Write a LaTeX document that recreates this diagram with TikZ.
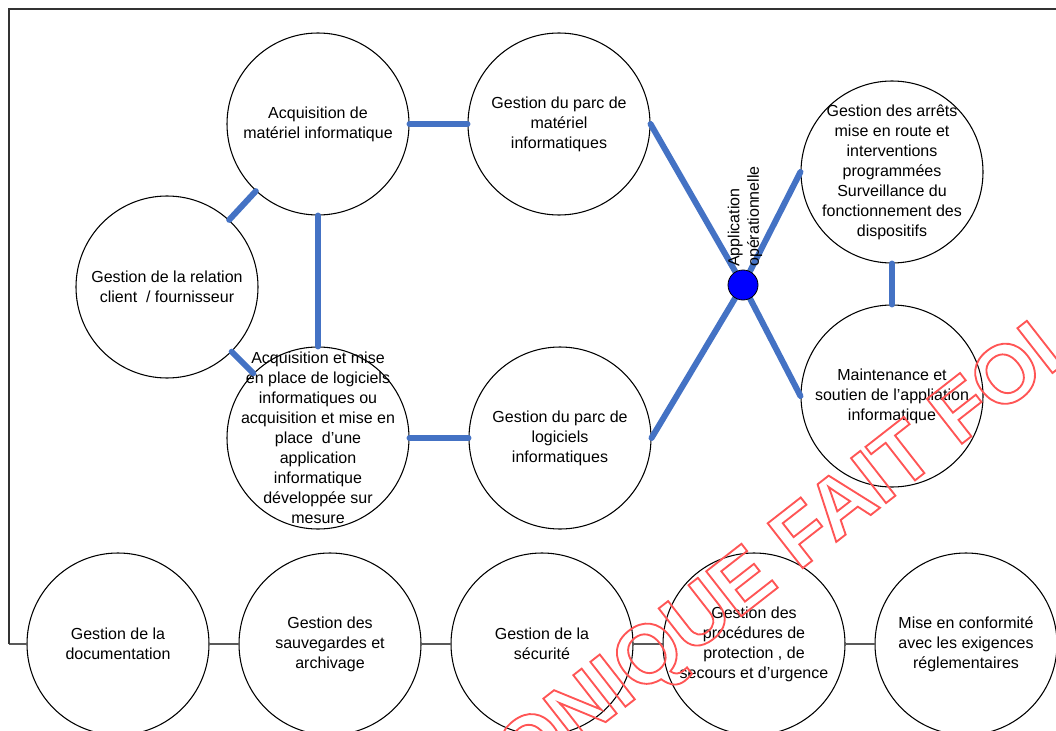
\documentclass[tikz,border=0pt]{standalone}
\usepackage{fontspec}
\setmainfont{Liberation Sans}
\usepackage{xcolor}
\usetikzlibrary{positioning,calc}
\definecolor{linkblue}{RGB}{68,114,196}
\definecolor{stampred}{RGB}{255,85,85}
\tikzstyle{proc} = [circle, draw, line width=0.8pt, minimum size=136.5pt, inner sep=-40pt, align=center, font=\fontsize{12}{15}\selectfont]
\tikzstyle{link} = [linkblue, line width=4.5pt, line cap=round]
\tikzstyle{chain} = [black!65, line width=1.1pt]
\tikzstyle{frame} = [black!80, line width=1pt]
\newcommand{\hollow}[1]{\special{pdf:literal direct 1 Tr 1.4 w}#1\special{pdf:literal direct 0 Tr}}

\begin{document}
\begin{tikzpicture}[x=0.75pt, y=-0.75pt]
    \useasboundingbox (0,0) rectangle (1056,731);
    \clip (0,0) rectangle (1056,731);
    % upper part
    \node[proc] (acqmat) at (318,124) {Acquisition de\\matériel informatique};
    \node[proc] (parcmat) at (559,124) {Gestion du parc de\\matériel\\informatiques};
    \node[proc] (relation) at (167,287) {Gestion de la relation\\client\ \ / fournisseur};
    \node[proc] (acqlog) at (318,438) {Acquisition et mise\\en place de logiciels\\informatiques ou\\acquisition et mise en\\place\ \ d’une\\application\\informatique\\développée sur\\mesure};
    \node[proc] (parclog) at (560,438) {Gestion du parc de\\logiciels\\informatiques};
    \node[proc] (arrets) at (892,172) {Gestion des arrêts\\mise en route et\\interventions\\programmées\\Surveillance du\\fonctionnement des\\dispositifs};
    \node[proc] (maint) at (892,396) {Maintenance et\\soutien de l’appliation\\informatique};
    \coordinate (hub) at (743,285);
    \draw[link] (acqmat) -- (parcmat);
    \draw[link] (relation) -- (acqmat);
    \draw[link] (relation) -- (acqlog);
    \draw[link] (acqmat) -- (acqlog);
    \draw[link] (acqlog) -- (parclog);
    \draw[link] (parcmat.east) -- (hub);
    \draw[link] (parclog.east) -- (hub);
    \draw[link] (hub) -- (arrets.west);
    \draw[link] (hub) -- (maint.west);
    \draw[link] (arrets) -- (maint);
    \node[circle, draw, fill=blue, line width=0.6pt, minimum size=22.5pt, inner sep=0pt] (app) at (hub) {};
    \node[rotate=90, anchor=west, align=left, inner sep=0pt, font=\fontsize{12}{14.5}\selectfont] (applabel) at (745,267) {Application\\opérationnelle};
    % lower row
    \foreach \i/\txt in {1/{Gestion de la\\documentation}, 2/{Gestion des\\sauvegardes et\\archivage}, 3/{Gestion de la\\sécurité}, 4/{Gestion des\\procédures de\\protection , de\\secours et d’urgence}, 5/{Mise en conformité\\avec les exigences\\réglementaires}} {
        \node[proc] (base\i) at ({118+(\i-1)*212},644) {\txt};
    }
    \foreach \i [count=\j from 2] in {1,...,4} {
        \draw[chain] (base\i) -- (base\j);
    }
    % frame
    \coordinate (foot) at (9,644);
    \coordinate (corner) at (9,9);
    \coordinate (topend) at (1060,9);
    \draw[chain] (foot) -- (base1);
    \draw[frame] (foot) -- (corner) -- (topend);
    % stamp
    \node[rotate=38, text=stampred, inner sep=0pt, font=\bfseries\fontsize{62}{62}\selectfont] (stamp) at (782,558) {\hollow{ONIQUE FAIT FOI}};
\end{tikzpicture}
\end{document}
